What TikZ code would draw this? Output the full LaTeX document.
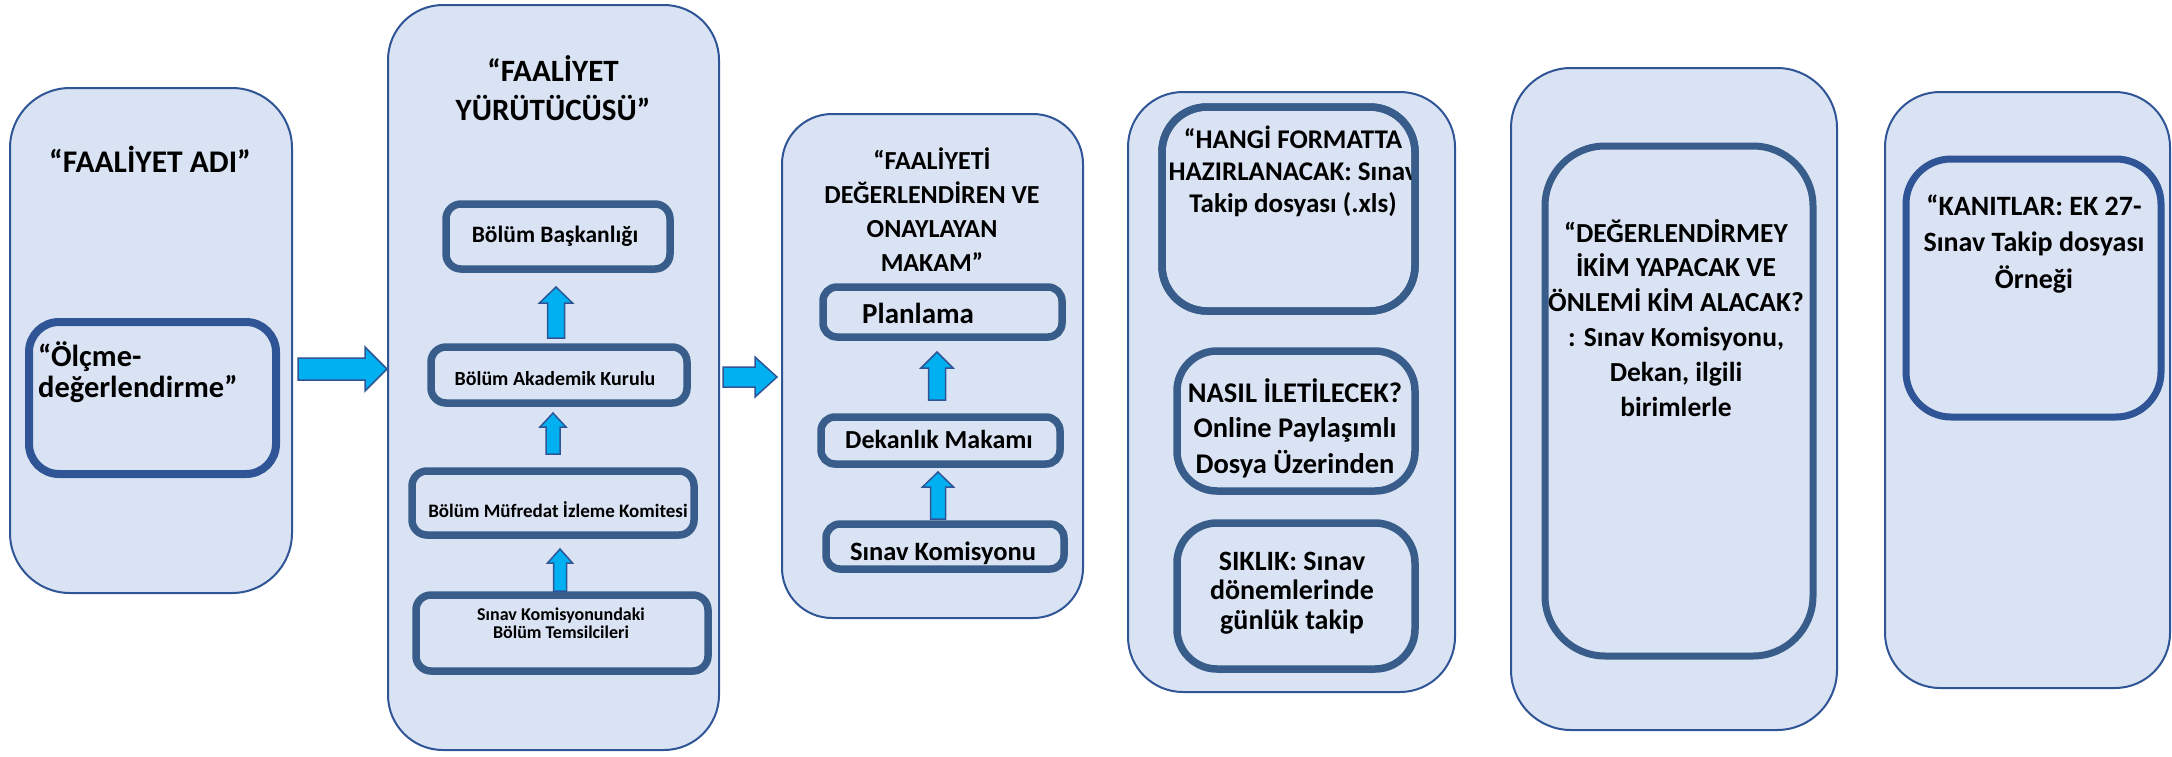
\documentclass[tikz,border=0pt]{standalone}
\usepackage{fontspec}
\setmainfont{Carlito}
\usetikzlibrary{calc,fit}
\definecolor{boxfill}{RGB}{218,227,243}
\definecolor{outerline}{RGB}{47,85,151}
\definecolor{innerA}{RGB}{47,85,151}
\definecolor{innerB}{RGB}{56,93,138}
\definecolor{arrowfill}{RGB}{0,176,240}
\newcommand\ml[2]{\begin{tabular}[t]{@{}#1@{}}#2\end{tabular}}
\newcommand\fs[2]{\fontsize{#1}{#2}\selectfont\bfseries}
\newcommand\rblock[5]{\draw[blk] let \p1=(#1), \p2=(#2) in
  (\x1,\y2+#3pt) -- (\x2-#5pt,\y2+#3pt) -- (\x2-#5pt,\y2+#4pt) -- (\x2,\y2)
  -- (\x2-#5pt,\y2-#4pt) -- (\x2-#5pt,\y2-#3pt) -- (\x1,\y2-#3pt) -- cycle;}
\newcommand\ublock[5]{\draw[blk] let \p1=(#1), \p2=(#2) in
  (\x2-#3pt,\y1) -- (\x2-#3pt,\y2-#5pt) -- (\x2-#4pt,\y2-#5pt) -- (\x2,\y2)
  -- (\x2+#4pt,\y2-#5pt) -- (\x2+#3pt,\y2-#5pt) -- (\x2+#3pt,\y1) -- cycle;}
\tikzset{
  outerbox/.style={draw=outerline, line width=2pt, fill=boxfill, rounded corners=#1, inner sep=0pt, outer sep=0pt},
  innerbox/.style={draw=innerB, line width=7.5pt, fill=boxfill, rounded corners=#1, inner sep=0pt, outer sep=0pt},
  txt/.style={anchor=base, inner sep=0pt, text=black},
  blk/.style={draw=outerline, line width=1.5pt, fill=arrowfill, line join=miter},
}
\begin{document}
\begin{tikzpicture}[x=1pt,y=-1pt]
\useasboundingbox (0,0) rectangle (2172,756);

% ---------- column 1
\node[outerbox=60pt, fit={(10,88) (292,593)}] (c1) {};
\node[txt] (c1t) at (150,172) {\fs{31.5}{36}\ml{c}{“FAALİYET ADI”}};
\node[innerbox=30pt, draw=innerA, line width=8pt, fit={(29,322) (276,474)}] (c1i) {};
\node[txt, anchor=base west] (c1it) at (38,366) {\fs{30.5}{31}\ml{l}{“Ölçme-\\değerlendirme”}};

% ---------- column 2
\node[outerbox=55pt, fit={(388,5) (719,750)}] (c2) {};
\node[txt] (c2t) at (553,81) {\fs{31}{39}\ml{c}{“FAALİYET\\YÜRÜTÜCÜSÜ”}};
\node[innerbox=15pt, fit={(446,204) (670,269)}] (b1) {};
\node[txt] (b1t) at (555,242) {\fs{23.5}{28}Bölüm Başkanlığı};
\node[innerbox=15pt, fit={(431,347) (687,403)}] (b2) {};
\node[txt] (b2t) at (555,385) {\fs{20}{24}Bölüm Akademik Kurulu};
\node[innerbox=15pt, fit={(412,471) (694,535)}] (b3) {};
\node[txt] (b3t) at (558,517) {\fs{19}{24}Bölüm Müfredat İzleme Komitesi};
\node[innerbox=15pt, fit={(416,595) (708,671)}] (b4) {};
\node[txt] (b4t) at (561,620) {\fs{18}{18}\ml{c}{Sınav Komisyonundaki\\Bölüm Temsilcileri}};

% ---------- column 3
\node[outerbox=50pt, fit={(782,114) (1083,618)}] (c3) {};
\node[txt] (c3t) at (932,169) {\fs{26}{34.3}\ml{c}{“FAALİYETİ\\DEĞERLENDİREN VE\\ONAYLAYAN\\MAKAM”}};
\node[innerbox=14pt, fit={(823,287) (1062,337)}] (p1) {};
\node[txt, anchor=base west] (p1t) at (862,323) {\fs{29}{34}Planlama};
\node[innerbox=14pt, fit={(821,417) (1060,464)}] (p2) {};
\node[txt] (p2t) at (939,448) {\fs{26}{30}Dekanlık Makamı};
\node[innerbox=14pt, fit={(826,524) (1064,569)}] (p3) {};
\node[txt] (p3t) at (943,560) {\fs{26.5}{29}Sınav Komisyonu};

% ---------- column 4
\node[outerbox=55pt, fit={(1128,92) (1455,692)}] (c4) {};
\node[innerbox=45pt, fit={(1162,107) (1415,311)}] (q1) {};
\begin{scope}
  \clip[rounded corners=45pt] (q1.south west) rectangle (q1.north east);
  \node[txt] (q1t) at (1293,148) {\fs{27}{32}\ml{c}{“HANGİ FORMATTA\\HAZIRLANACAK: Sınav\\Takip dosyası (.xls)}};
\end{scope}
\draw[draw=innerB, line width=7.5pt, rounded corners=45pt] (q1.south west) rectangle (q1.north east);
\node[innerbox=40pt, fit={(1177,351) (1415,491)}] (q2) {};
\node[txt] (q2t) at (1295,402) {\fs{28.5}{35.5}\ml{c}{NASIL İLETİLECEK?\\Online Paylaşımlı\\Dosya Üzerinden}};
\node[innerbox=40pt, fit={(1177,523) (1415,669)}] (q3) {};
\node[txt] (q3t) at (1292,570) {\fs{28}{29.5}\ml{c}{SIKLIK: Sınav\\dönemlerinde\\günlük takip}};

% ---------- column 5
\node[outerbox=60pt, fit={(1511,68) (1837,730)}] (c5) {};
\node[innerbox=60pt, line width=7pt, fit={(1545,146) (1813,656)}] (r1) {};
\node[txt] (r1t) at (1676,242) {\fs{27.5}{34.8}\ml{c}{“DEĞERLENDİRMEY\\İKİM YAPACAK VE\\ÖNLEMİ KİM ALACAK?\\: Sınav Komisyonu,\\Dekan, ilgili\\birimlerle}};

% ---------- column 6
\node[outerbox=55pt, fit={(1885,92) (2170,688)}] (c6) {};
\node[innerbox=45pt, draw=innerA, line width=7pt, fit={(1906,159) (2161,417)}] (s1) {};
\node[txt] (s1t) at (2034,215) {\fs{28}{36.5}\ml{c}{“KANITLAR: EK 27-\\Sınav Takip dosyası\\Örneği}};

% ---------- block arrows
\coordinate (a1s) at (298,369); \coordinate (a1e) at (387,369);
\rblock{a1s}{a1e}{11}{22}{22}
\coordinate (a2s) at (723,377); \coordinate (a2e) at (777,377);
\rblock{a2s}{a2e}{10}{20}{22}
\coordinate (u1s) at (556,338); \coordinate (u1e) at (556,287);
\ublock{u1s}{u1e}{8.5}{16.5}{16}
\coordinate (u2s) at (553,454); \coordinate (u2e) at (553,413);
\ublock{u2s}{u2e}{7}{13}{14}
\coordinate (u3s) at (560,591); \coordinate (u3e) at (560,549);
\ublock{u3s}{u3e}{6.5}{12.5}{14}
\coordinate (u4s) at (937,400); \coordinate (u4e) at (937,352);
\ublock{u4s}{u4e}{8.5}{16}{16}
\coordinate (u5s) at (938,519); \coordinate (u5e) at (938,472);
\ublock{u5s}{u5e}{7.5}{15.5}{15}
\end{tikzpicture}
\end{document}
